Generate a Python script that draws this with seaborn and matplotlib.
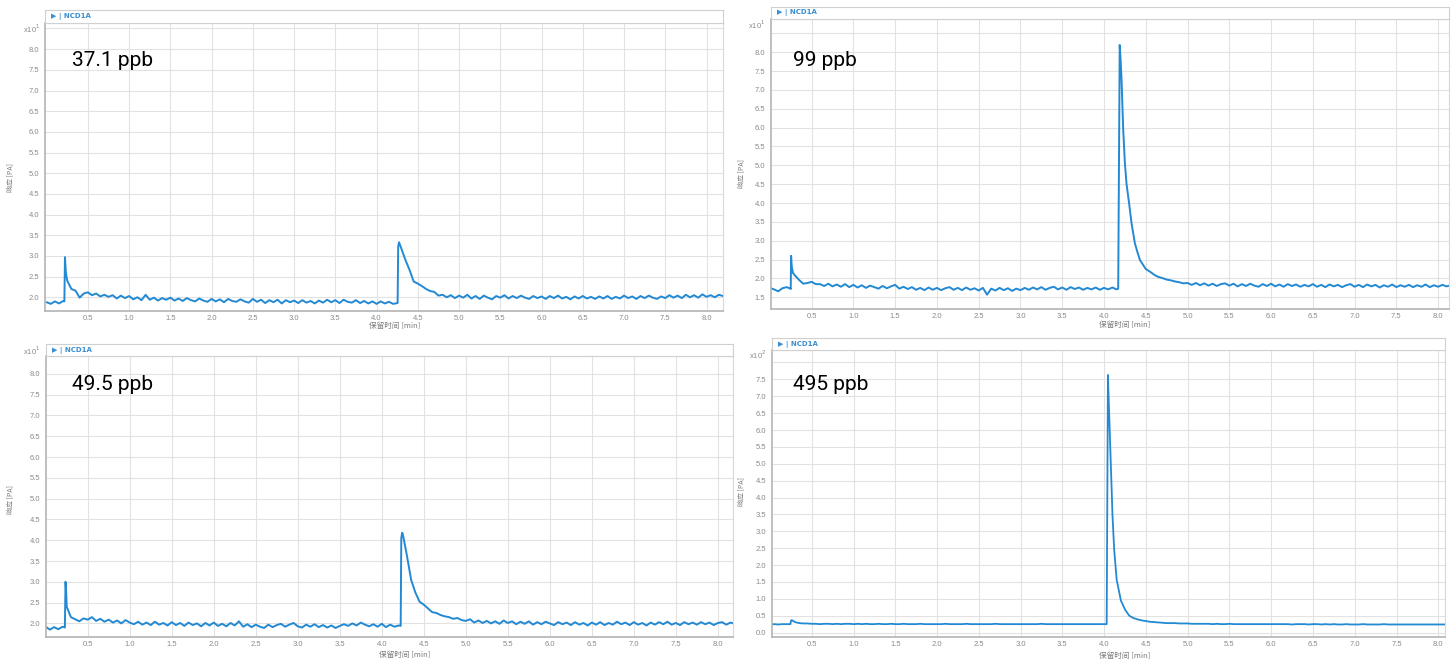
import matplotlib
matplotlib.use("Agg")
import matplotlib.pyplot as plt
import numpy as np
import pandas as pd
import seaborn as sns

# shared retention-time grid (min)
t_grid = [
    0.00, 0.05, 0.10, 0.15, 0.20, 0.25, 0.30, 0.35, 0.40, 0.45,
    0.50, 0.55, 0.60, 0.65, 0.70, 0.75, 0.80, 0.85, 0.90, 0.95,
    1.00, 1.05, 1.10, 1.15, 1.20, 1.25, 1.30, 1.35, 1.40, 1.45,
    1.50, 1.55, 1.60, 1.65, 1.70, 1.75, 1.80, 1.85, 1.90, 1.95,
    2.00, 2.05, 2.10, 2.15, 2.20, 2.25, 2.30, 2.35, 2.40, 2.45,
    2.50, 2.55, 2.60, 2.65, 2.70, 2.75, 2.80, 2.85, 2.90, 2.95,
    3.00, 3.05, 3.10, 3.15, 3.20, 3.25, 3.30, 3.35, 3.40, 3.45,
    3.50, 3.55, 3.60, 3.65, 3.70, 3.75, 3.80, 3.85, 3.90, 3.95,
    4.00, 4.05, 4.10, 4.15, 4.20, 4.25, 4.30, 4.35, 4.40, 4.45,
    4.50, 4.55, 4.60, 4.65, 4.70, 4.75, 4.80, 4.85, 4.90, 4.95,
    5.00, 5.05, 5.10, 5.15, 5.20, 5.25, 5.30, 5.35, 5.40, 5.45,
    5.50, 5.55, 5.60, 5.65, 5.70, 5.75, 5.80, 5.85, 5.90, 5.95,
    6.00, 6.05, 6.10, 6.15, 6.20, 6.25, 6.30, 6.35, 6.40, 6.45,
    6.50, 6.55, 6.60, 6.65, 6.70, 6.75, 6.80, 6.85, 6.90, 6.95,
    7.00, 7.05, 7.10, 7.15, 7.20, 7.25, 7.30, 7.35, 7.40, 7.45,
    7.50, 7.55, 7.60, 7.65, 7.70, 7.75, 7.80, 7.85, 7.90, 7.95,
    8.00, 8.05, 8.10, 8.15, 8.20,
]

# 37.1 ppb  (x10^1 pA)
v_371 = [
    1.88, 1.84, 1.90, 1.85, 1.91, 2.40, 2.20, 2.16, 1.99, 2.09,
    2.12, 2.05, 2.09, 2.02, 2.06, 2.01, 2.05, 1.97, 2.04, 1.98,
    2.03, 1.95, 2.00, 1.93, 2.06, 1.94, 1.99, 1.92, 1.98, 1.94,
    1.99, 1.92, 1.97, 1.91, 1.98, 1.93, 1.90, 1.97, 1.92, 1.89,
    1.96, 1.90, 1.95, 1.88, 1.96, 1.91, 1.89, 1.95, 1.90, 1.87,
    1.96, 1.89, 1.94, 1.86, 1.93, 1.88, 1.94, 1.85, 1.93, 1.88,
    1.92, 1.86, 1.93, 1.87, 1.91, 1.85, 1.92, 1.87, 1.94, 1.88,
    1.93, 1.86, 1.94, 1.89, 1.87, 1.93, 1.86, 1.91, 1.85, 1.90,
    1.84, 1.90, 1.85, 1.89, 1.84, 1.86, 3.18, 2.90, 2.66, 2.38,
    2.33, 2.27, 2.20, 2.15, 2.13, 2.04, 2.06, 2.00, 2.05, 1.98,
    2.04, 1.99, 2.06, 1.97, 2.03, 1.96, 2.04, 1.99, 1.95, 2.03,
    1.99, 2.05, 1.97, 2.03, 1.98, 2.04, 1.99, 1.96, 2.03, 1.98,
    2.02, 1.96, 2.03, 1.98, 2.04, 1.97, 2.01, 1.95, 2.02, 1.97,
    2.03, 1.97, 2.01, 1.96, 2.02, 1.97, 2.03, 1.96, 2.01, 1.97,
    2.04, 1.98, 2.02, 1.96, 2.03, 1.98, 2.04, 1.99, 1.96, 2.02,
    1.98, 2.05, 1.99, 2.04, 1.98, 2.06, 2.00, 2.05, 1.99, 2.07,
    2.01, 2.05, 2.00, 2.06, 2.03,
]
peak_t_371 = [0.215, 0.222, 0.232, 0.242, 4.255, 4.262, 4.272, 4.285]
peak_v_371 = [1.90, 2.97, 2.62, 2.48, 1.86, 3.22, 3.33, 3.26]

# 99 ppb  (x10^1 pA)
v_99 = [
    1.75, 1.71, 1.66, 1.74, 1.77, 1.72, 2.08, 1.96, 1.86, 1.88,
    1.91, 1.85, 1.85, 1.80, 1.86, 1.79, 1.84, 1.78, 1.85, 1.77,
    1.83, 1.76, 1.82, 1.75, 1.81, 1.77, 1.73, 1.80, 1.74, 1.79,
    1.83, 1.73, 1.78, 1.72, 1.77, 1.70, 1.75, 1.69, 1.76, 1.70,
    1.75, 1.69, 1.74, 1.77, 1.70, 1.75, 1.69, 1.76, 1.70, 1.74,
    1.68, 1.75, 1.57, 1.73, 1.68, 1.75, 1.69, 1.74, 1.67, 1.73,
    1.69, 1.75, 1.70, 1.76, 1.71, 1.77, 1.70, 1.75, 1.78, 1.71,
    1.76, 1.70, 1.77, 1.72, 1.76, 1.70, 1.75, 1.71, 1.76, 1.70,
    1.75, 1.71, 1.76, 1.71, 7.75, 5.06, 4.00, 3.20, 2.70, 2.42,
    2.25, 2.18, 2.10, 2.04, 2.01, 1.97, 1.95, 1.92, 1.90, 1.87,
    1.88, 1.83, 1.88, 1.82, 1.87, 1.81, 1.86, 1.80, 1.85, 1.87,
    1.81, 1.86, 1.79, 1.85, 1.80, 1.86, 1.81, 1.78, 1.85, 1.80,
    1.86, 1.79, 1.84, 1.78, 1.85, 1.80, 1.84, 1.78, 1.83, 1.79,
    1.85, 1.78, 1.83, 1.77, 1.84, 1.79, 1.83, 1.77, 1.82, 1.85,
    1.78, 1.83, 1.77, 1.84, 1.79, 1.83, 1.76, 1.82, 1.78, 1.84,
    1.77, 1.82, 1.78, 1.83, 1.77, 1.82, 1.78, 1.84, 1.77, 1.82,
    1.78, 1.83, 1.79, 1.82, 1.80,
]
peak_t_99 = [0.248, 0.254, 0.262, 0.275, 4.170, 4.188,
             4.21, 4.23, 4.27, 4.29, 4.33, 4.37, 4.43]
peak_v_99 = [1.73, 2.60, 2.32, 2.15, 1.73, 8.19,
             7.27, 5.94, 4.50, 4.17, 3.46, 2.93, 2.49]

# 49.5 ppb  (x10^1 pA)
v_495 = [
    1.92, 1.85, 1.91, 1.86, 1.92, 2.40, 2.15, 2.10, 2.05, 2.12,
    2.09, 2.15, 2.06, 2.11, 2.04, 2.09, 2.02, 2.07, 2.00, 2.08,
    2.02, 1.98, 2.04, 1.97, 2.02, 1.96, 2.04, 1.97, 2.01, 1.95,
    2.03, 1.96, 2.01, 1.94, 2.02, 1.96, 2.00, 1.93, 2.01, 1.95,
    2.02, 1.94, 1.99, 1.93, 2.01, 1.95, 2.05, 1.92, 1.98, 1.91,
    1.97, 1.92, 1.89, 1.97, 1.91, 1.96, 1.99, 1.92, 1.97, 2.01,
    1.93, 1.90, 1.97, 1.92, 1.98, 1.91, 1.96, 1.90, 1.95, 1.89,
    1.94, 1.98, 1.94, 2.00, 1.95, 2.02, 1.97, 1.93, 1.98, 1.92,
    1.99, 1.91, 1.97, 1.92, 1.95, 4.15, 3.62, 3.04, 2.74, 2.52,
    2.45, 2.36, 2.27, 2.25, 2.20, 2.17, 2.15, 2.11, 2.13, 2.08,
    2.06, 2.10, 2.02, 2.07, 2.01, 2.06, 2.00, 2.05, 1.99, 2.07,
    2.01, 2.05, 1.98, 2.04, 1.99, 2.05, 1.97, 2.03, 1.98, 2.04,
    2.00, 1.96, 2.03, 1.98, 2.02, 1.96, 2.03, 1.97, 2.01, 1.95,
    2.02, 1.97, 2.03, 1.96, 2.01, 1.97, 2.04, 1.98, 2.02, 1.96,
    2.03, 1.97, 2.01, 1.95, 2.02, 1.97, 2.03, 1.98, 2.04, 1.97,
    2.01, 1.96, 2.03, 1.98, 2.02, 1.97, 2.03, 1.98, 2.02, 1.96,
    2.01, 2.03, 1.97, 2.02, 1.99,
]
peak_t_495 = [0.228, 0.236, 0.245, 4.225, 4.232, 4.242]
peak_v_495 = [1.90, 3.00, 2.70, 1.94, 4.05, 4.18]

# 495 ppb  (x10^2 pA)
v_4950 = [
    0.24, 0.25, 0.24, 0.25, 0.25, 0.35, 0.31, 0.28, 0.27, 0.27,
    0.26, 0.26, 0.25, 0.26, 0.26, 0.25, 0.26, 0.25, 0.26, 0.26,
    0.25, 0.26, 0.25, 0.26, 0.25, 0.25, 0.26, 0.25, 0.25, 0.26,
    0.25, 0.25, 0.26, 0.25, 0.25, 0.25, 0.26, 0.25, 0.25, 0.25,
    0.25, 0.25, 0.26, 0.25, 0.25, 0.25, 0.25, 0.26, 0.25, 0.25,
    0.25, 0.25, 0.25, 0.25, 0.26, 0.25, 0.25, 0.25, 0.25, 0.25,
    0.25, 0.25, 0.25, 0.25, 0.25, 0.26, 0.25, 0.25, 0.25, 0.25,
    0.25, 0.25, 0.25, 0.25, 0.25, 0.25, 0.25, 0.25, 0.25, 0.25,
    0.25, 7.20, 3.45, 1.56, 0.95, 0.68, 0.50, 0.43, 0.39, 0.36,
    0.34, 0.32, 0.31, 0.30, 0.29, 0.28, 0.28, 0.28, 0.27, 0.27,
    0.27, 0.26, 0.26, 0.26, 0.26, 0.26, 0.25, 0.26, 0.25, 0.25,
    0.26, 0.25, 0.25, 0.25, 0.25, 0.25, 0.25, 0.25, 0.25, 0.25,
    0.25, 0.25, 0.25, 0.25, 0.25, 0.24, 0.25, 0.25, 0.25, 0.24,
    0.25, 0.25, 0.24, 0.25, 0.24, 0.25, 0.24, 0.24, 0.25, 0.24,
    0.24, 0.24, 0.25, 0.24, 0.24, 0.24, 0.24, 0.25, 0.24, 0.24,
    0.24, 0.24, 0.24, 0.24, 0.24, 0.24, 0.24, 0.24, 0.24, 0.24,
    0.24, 0.24, 0.24, 0.24, 0.24,
]
peak_t_4950 = [0.245, 0.26, 4.03, 4.045, 4.07, 4.09, 4.12]
peak_v_4950 = [0.25, 0.37, 0.25, 7.63, 5.70, 4.22, 2.45]

labels = ["37.1 ppb", "99 ppb", "49.5 ppb", "495 ppb"]
exponents = [1, 1, 1, 2]

# ---- figure ----
sns.set_style("white")
plt.rcParams['font.family'] = ['Liberation Sans', 'DejaVu Sans']
cjk = ['Noto Sans CJK SC', 'DejaVu Sans']

W, H = 1456, 664
fig = plt.figure(figsize=(W / 100, H / 100), dpi=100)


def rect(x0, y0, x1, y1):
    return [x0 / W, 1 - y1 / H, (x1 - x0) / W, (y1 - y0) / H]


def ftxt(x, y, s, **kw):
    fig.text(x / W, 1 - y / H, s, **kw)


LINE = '#2389d3'
TICK = '#8a8a8a'

panels = [
    dict(v=v_371, pt=peak_t_371, pv=peak_v_371, box=(45, 22.7, 723, 310.7), bar=10,
         xlim=(-0.02, 8.2), ylim=(1.675, 8.64), yt=np.arange(2.0, 8.51, 0.5), lw=1.4,
         lab=(72, 61), exp=(40, 29), xl=(395, 326), yl=(10, 178)),
    dict(v=v_99, pt=peak_t_99, pv=peak_v_99, box=(770.7, 19, 1449, 309), bar=7,
         xlim=(0.01, 8.13), ylim=(1.19, 8.88), yt=np.arange(1.5, 8.51, 0.5), lw=1.4,
         lab=(793, 61), exp=(765, 25), xl=(1125, 325), yl=(741, 173)),
    dict(v=v_495, pt=peak_t_495, pv=peak_v_495, box=(45.7, 356, 733, 636.7), bar=344,
         xlim=(0.0, 8.18), ylim=(1.68, 8.43), yt=np.arange(2.0, 8.01, 0.5), lw=1.4,
         lab=(72, 384), exp=(40, 351), xl=(405, 655), yl=(10, 500)),
    dict(v=v_4950, pt=peak_t_4950, pv=peak_v_4950, box=(771.7, 350, 1445, 637.3), bar=338,
         xlim=(0.02, 8.08), ylim=(-0.14, 8.37), yt=np.arange(0.0, 8.01, 0.5), lw=1.3,
         lab=(793, 384), exp=(766, 355), xl=(1125, 656), yl=(741, 492)),
]

assert all(len(p['v']) == len(t_grid) for p in panels)

for p, lab, ex in zip(panels, labels, exponents):
    x0, y0, x1, y1 = p['box']
    ax = fig.add_axes(rect(x0, y0, x1, y1))

    df = pd.DataFrame({'t': t_grid + p['pt'], 'v': p['v'] + p['pv']}).sort_values('t')
    sns.lineplot(data=df, x='t', y='v', ax=ax, color=LINE, lw=p['lw'],
                 estimator=None, sort=True)

    ax.set_xlim(*p['xlim'])
    ax.set_ylim(*p['ylim'])
    xt = np.arange(0.5, 8.01, 0.5)
    ax.set_xticks(xt)
    ax.set_xticklabels([f"{x:.1f}" for x in xt])
    yt = p['yt']
    ax.set_yticks(yt)
    # the topmost gridline carries no number (the x10 factor sits there instead)
    hidden = yt[-1] if (yt[-1] > 8.2 or ex == 2) else None
    ax.set_yticklabels(["" if hidden is not None and abs(y - hidden) < 0.01 else f"{y:.1f}"
                        for y in yt])
    ax.tick_params(length=0, labelsize=5.5, labelcolor=TICK)
    ax.tick_params(axis='y', pad=4)
    ax.tick_params(axis='x', pad=3)
    ax.grid(True, color='#e2e2e2', lw=0.8)
    ax.set_xlabel('')
    ax.set_ylabel('')
    for s in ['left', 'bottom']:
        ax.spines[s].set_color('#b4b4b4')
        ax.spines[s].set_linewidth(1.2)
    for s in ['top', 'right']:
        ax.spines[s].set_color('#d8d8d8')
        ax.spines[s].set_linewidth(0.8)

    # title bar
    tb = fig.add_axes(rect(x0, p['bar'], x1, y0))
    tb.set_xticks([])
    tb.set_yticks([])
    for s in tb.spines.values():
        s.set_color('#d0d0d0')
        s.set_linewidth(0.8)
    tb.text(6 / (x1 - x0), 0.5, "\u25b6 | NCD1A", transform=tb.transAxes,
            va='center', ha='left', fontsize=5, fontweight='bold', color='#3a8fd2',
            family=['DejaVu Sans'])

    ftxt(p['lab'][0], p['lab'][1], lab, fontsize=15, family=['Roboto', 'DejaVu Sans'],
         color='black', va='center', ha='left')
    ftxt(p['exp'][0], p['exp'][1], f"x10$^{{{ex}}}$", fontsize=5.5, color=TICK,
         va='center', ha='right')
    ftxt(p['xl'][0], p['xl'][1], "保留时间 [min]", fontsize=5.5, color='#7a7a7a',
         va='center', ha='center', family=cjk)
    ftxt(p['yl'][0], p['yl'][1], "响应 [PA]", fontsize=5, color='#7a7a7a',
         va='center', ha='center', rotation=90, family=cjk)

fig.savefig("out.png", dpi=100)
